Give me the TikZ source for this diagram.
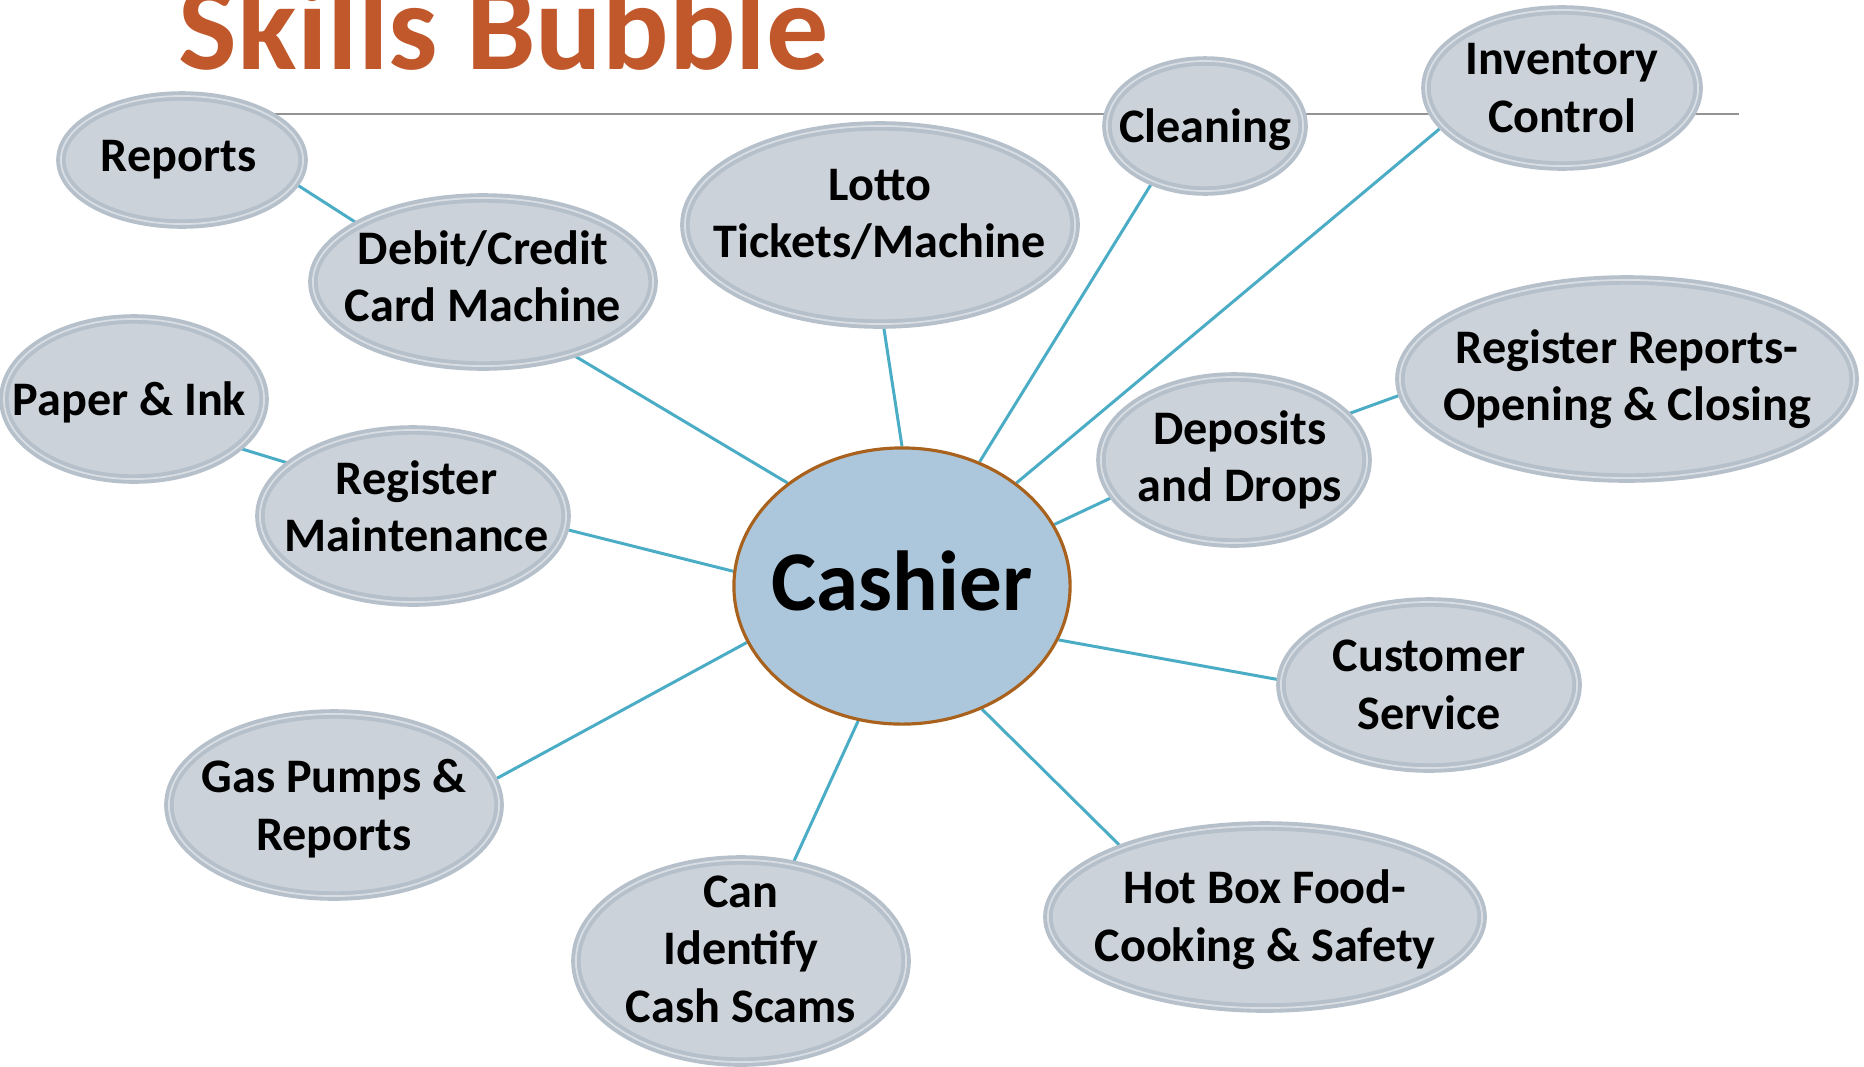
\documentclass[tikz,border=0pt]{standalone}
\usepackage{fontspec}
\setmainfont{Carlito}
\usetikzlibrary{shapes.geometric, backgrounds}
\definecolor{bubblefill}{RGB}{203,210,217}
\definecolor{bubbleedge}{RGB}{182,192,202}
\definecolor{bubblering}{RGB}{216,222,228}
\definecolor{hubfill}{RGB}{172,199,220}
\definecolor{hubedge}{RGB}{168,98,30}
\definecolor{linkcol}{RGB}{75,172,198}
\definecolor{titlecol}{RGB}{192,88,44}
\tikzset{
	x=0.01cm, y=-0.01cm, % one unit is one pixel of the picture, y going down
	bubbletext/.style={inner sep=0pt, align=center, font=\fontsize{13.7}{16.3}\selectfont\bfseries}, % the words inside a bubble
	bubble/.style 2 args={ellipse, fill=bubblefill, draw=bubbleedge, line width=1.1pt, double=bubblering, double distance=0.5pt, inner sep=0pt, label={[bubbletext, #2]center:{#1}}}, % grey skill bubble, text and its nudge
	size/.style 2 args={minimum width=#1cm, minimum height=#2cm}, % ellipse width and height
	hub/.style={ellipse, fill=hubfill, draw=hubedge, line width=0.9pt, inner sep=0pt, label={[inner sep=0pt, yshift=1.5pt, font=\fontsize{24.2}{29}\selectfont\bfseries]center:#1}}, % the centre bubble
	link/.style={draw=linkcol, line width=0.85pt}, % the lines between bubbles
}
\begin{document}
\begin{tikzpicture}
	\useasboundingbox (0,0) rectangle (1864,1066);

	% title and its rule
	\node[anchor=base west, inner sep=0pt, text=titlecol, font=\fontsize{35.3}{40}\selectfont\bfseries] (title) at (178,69) {Skills Bubble};
	\coordinate (rule west) at (273,114);
	\coordinate (rule east) at (1739,114);

	% bubbles
	\node[hub={Cashier}, size={3.36}{2.76}] (cashier) at (902,586) {};
	\node[bubble={Reports}{xshift=-1pt}, size={2.42}{1.28}] (reports) at (182,160) {};
	\node[bubble={Debit/Credit\\Card Machine}{yshift=1.7pt}, size={3.40}{1.68}] (debit) at (483,282) {};
	\node[bubble={Lotto\\Tickets/Machine}{yshift=3pt}, size={3.90}{1.98}] (lotto) at (880,225) {};
	\node[bubble={Cleaning}{yshift=-1pt}, size={1.96}{1.30}] (cleaning) at (1205,126) {};
	\node[bubble={Inventory\\Control}{}, size={2.72}{1.56}] (inventory) at (1562,88) {};
	\node[bubble={Register Reports-\\Opening \& Closing}{}, size={4.54}{1.98}] (regreports) at (1627,379) {};
	\node[bubble={Deposits\\and Drops}{xshift=1.7pt}, size={2.66}{1.66}] (deposits) at (1234,460) {};
	\node[bubble={Paper \& Ink}{xshift=-1.3pt, yshift=-1pt}, size={2.60}{1.60}] (paper) at (134,399) {};
	\node[bubble={Register\\Maintenance}{xshift=1pt, yshift=2.7pt}, size={3.06}{1.72}] (regmaint) at (413,516) {};
	\node[bubble={Customer\\Service}{}, size={2.96}{1.66}] (customer) at (1429,685) {};
	\node[bubble={Gas Pumps \&\\Reports}{yshift=-1pt}, size={3.30}{1.82}] (gas) at (334,805) {};
	\node[bubble={Can\\Identify\\Cash Scams}{yshift=3.4pt}, size={3.30}{2.02}] (scams) at (741,961) {};
	\node[bubble={Hot Box Food-\\Cooking \& Safety}{yshift=-0.8pt}, size={4.34}{1.82}] (hotbox) at (1265,917) {};

	% lines behind the bubbles
	\begin{pgfonlayer}{background}
		\draw[gray!85, line width=0.4pt] (rule west) -- (rule east);
		\foreach \skill/\from/\to in {debit/321/138, lotto/272/90, cleaning/227/58, inventory/198/42, deposits/197/22, regmaint/355/175, customer/178/341, gas/9/200, scams/62/252, hotbox/154/303}
		{
			\draw[link] (\skill.\from) -- (cashier.\to);
		}
		\draw[link] (reports.348) -- (debit.155);
		\draw[link] (paper.335) -- (regmaint.157);
		\draw[link] (regreports.184) -- (deposits.22);
	\end{pgfonlayer}
\end{tikzpicture}
\end{document}
